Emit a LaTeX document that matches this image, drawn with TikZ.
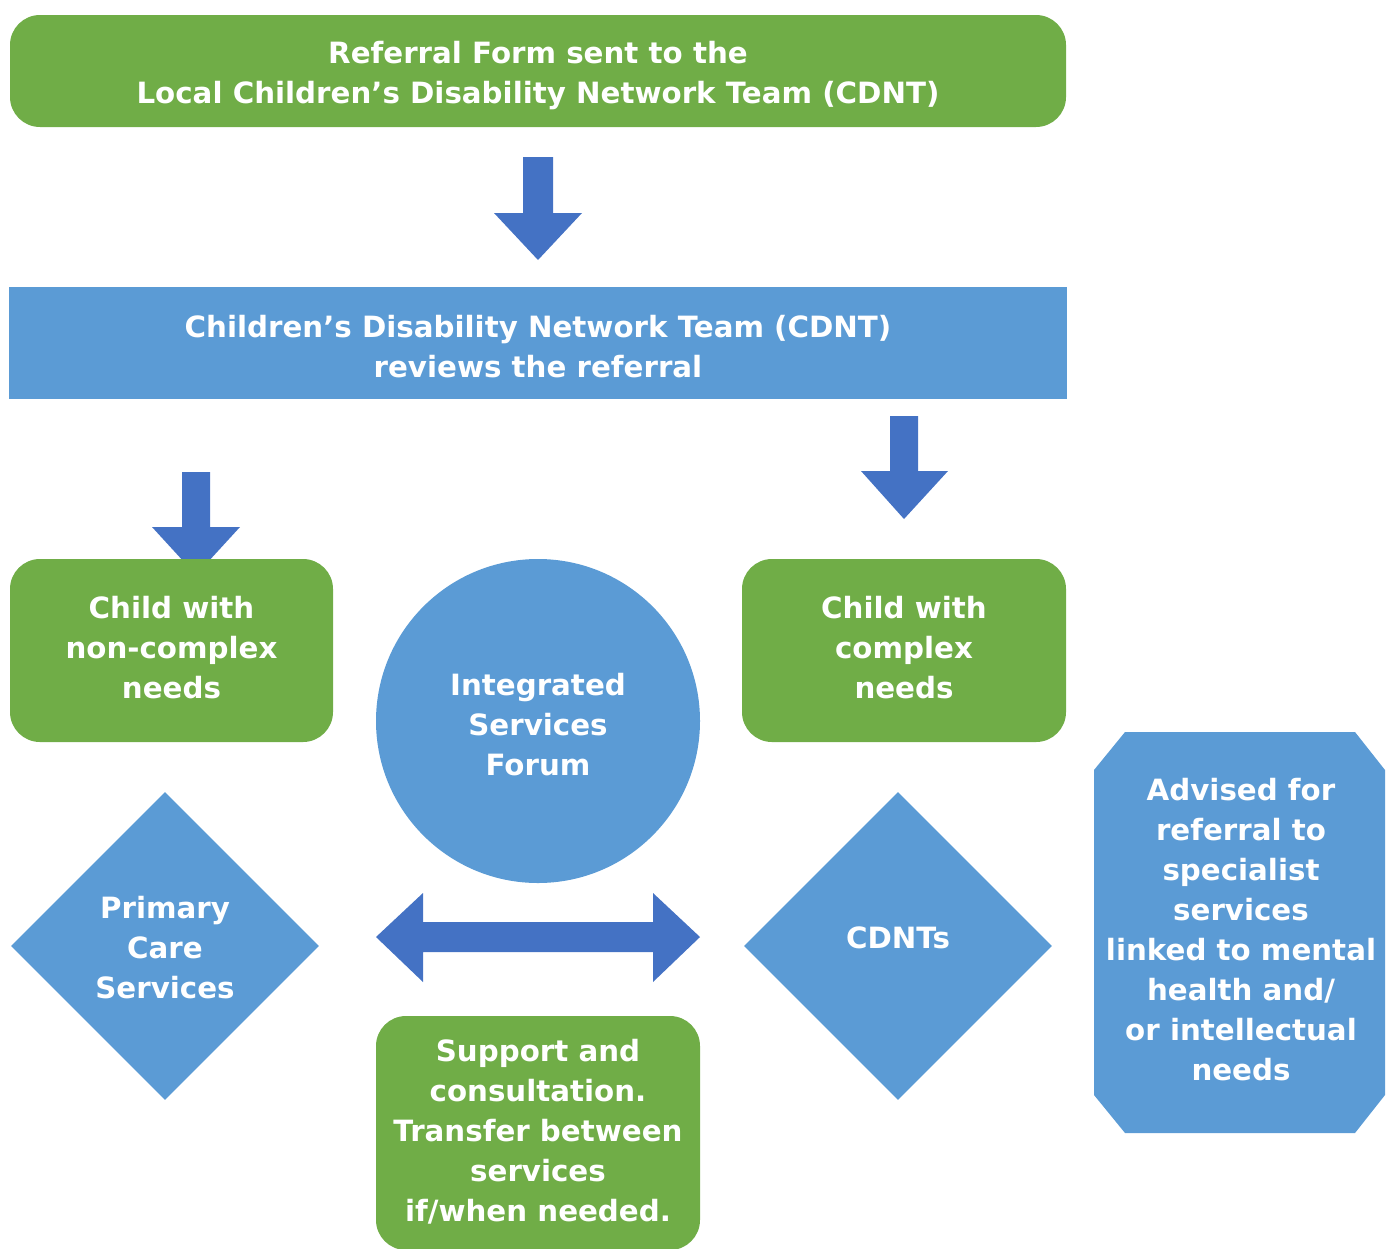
\documentclass[tikz,border=0pt]{standalone}
\usepackage{fontspec}
\setmainfont{DejaVu Sans}
\usetikzlibrary{shapes.geometric}
\definecolor{grn}{HTML}{70AD47}
\definecolor{blu}{HTML}{5B9BD5}
\definecolor{arr}{HTML}{4472C4}
\begin{document}
\begin{tikzpicture}[x=1pt,y=-1pt,
  lbl/.style={text=white,font=\bfseries\fontsize{29.3}{40}\selectfont,align=center,inner sep=0pt},
  greenbox/.style={fill=grn,rounded corners=30pt,inner sep=0pt},
  bluebox/.style={fill=blu,inner sep=0pt},
  blockarrow/.style={fill=arr}]
\useasboundingbox (0,0) rectangle (1391,1248);
% top box
\node[greenbox,minimum width=1056pt,minimum height=112pt] (ref) at (538,71) {};
\node[lbl] (reft) at (538,76) {Referral Form sent to the\\Local Children’s Disability Network Team (CDNT)};
% arrow 1
\fill[blockarrow] (523,157) -- (553,157) -- (553,213) -- (582,213) -- (538,260) -- (494,213) -- (523,213) -- cycle;
% review box
\node[bluebox,minimum width=1058pt,minimum height=112pt] (rev) at (538,343) {};
\node[lbl] (revt) at (538,347) {Children’s Disability Network Team (CDNT)\\reviews the referral};
% arrows 2,3
\fill[blockarrow] (890,416) -- (918,416) -- (918,471) -- (948,471) -- (904,519) -- (861,471) -- (890,471) -- cycle;
\fill[blockarrow] (182,472) -- (210,472) -- (210,527) -- (240,527) -- (196,575) -- (152,527) -- (182,527) -- cycle;
% green boxes
\node[greenbox,minimum width=323pt,minimum height=183pt] (ncx) at (171.5,650.5) {};
\node[lbl] (ncxt) at (171.5,648) {Child with\\non-complex\\needs};
\node[greenbox,minimum width=324pt,minimum height=183pt] (cx) at (904,650.5) {};
\node[lbl] (cxt) at (904,648) {Child with\\complex\\needs};
% circle
\node[circle,fill=blu,minimum size=324pt,inner sep=0pt] (isf) at (538,721) {};
\node[lbl] (isft) at (538,725) {Integrated\\Services\\Forum};
% diamonds
\node[diamond,fill=blu,minimum width=308pt,minimum height=308pt,inner sep=0pt] (pcs) at (165,946) {};
\node[lbl] (pcst) at (165,948) {Primary\\Care\\Services};
\node[diamond,fill=blu,minimum width=308pt,minimum height=308pt,inner sep=0pt] (cdnts) at (898,946) {};
\node[lbl] (cdntst) at (898,938) {CDNTs};
% double arrow
\fill[blockarrow] (376,937) -- (423,893) -- (423,922) -- (653,922) -- (653,893) -- (700,937) -- (653,982) -- (653,952) -- (423,952) -- (423,982) -- cycle;
% bottom green box
\node[greenbox,minimum width=324pt,minimum height=234pt] (sup) at (538,1133) {};
\node[lbl] (supt) at (538,1132) {Support and\\consultation.\\Transfer between\\services\\if/when needed.};
% octagon
\fill[blu] (1094,770) -- (1125,732) -- (1355,732) -- (1385,770) -- (1385,1095) -- (1355,1133) -- (1125,1133) -- (1094,1095) -- cycle;
\node[lbl] (advt) at (1241,929.5) {Advised for\\referral to\\specialist\\services\\linked to mental\\health and/\\or intellectual\\needs};
\end{tikzpicture}
\end{document}
